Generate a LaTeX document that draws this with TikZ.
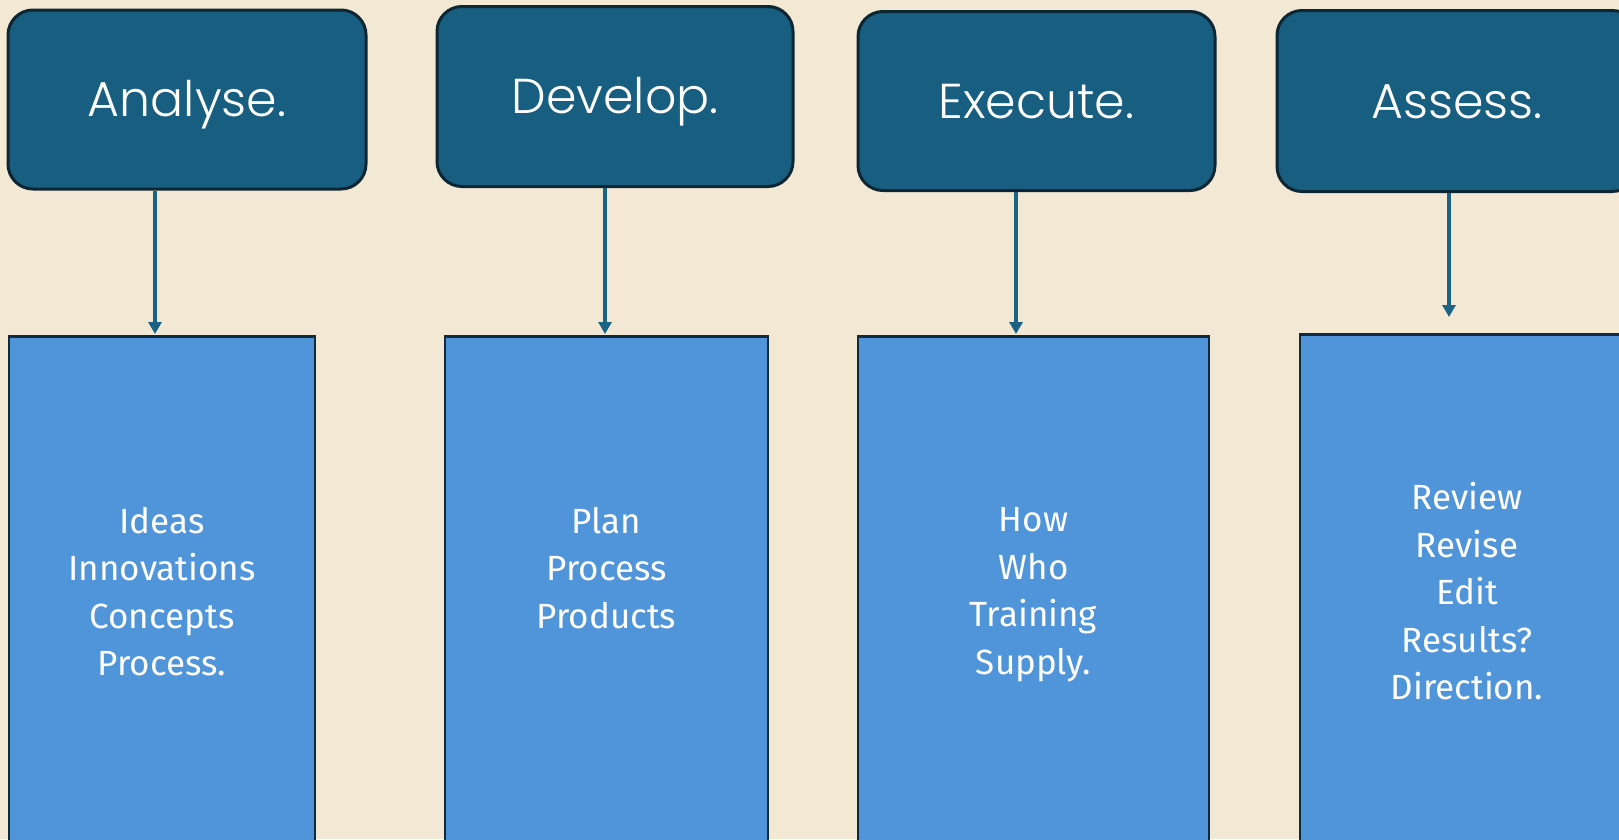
\documentclass[tikz,border=0pt]{standalone}
\usepackage{fontspec}
\setmainfont{Fira Sans}
\newfontfamily\headfont{Poppins Light}
\usetikzlibrary{arrows.meta}
\definecolor{bgc}{HTML}{F3E8D3}
\definecolor{headfill}{HTML}{175E80}
\definecolor{headline}{HTML}{0C2634}
\definecolor{bodyfill}{HTML}{5095D9}
\definecolor{bodyline}{HTML}{0F2A3C}
\definecolor{arrc}{HTML}{1A6286}
\tikzset{
  headbox/.style={draw=headline, line width=3pt, fill=headfill, rounded corners=25pt,
    text=white, font=\headfont\fontsize{49}{55}\selectfont, inner sep=0pt,
    text height=34pt, text depth=0pt},
  bodybox/.style={draw=bodyline, line width=2.5pt, fill=bodyfill, text=white,
    align=center, font=\fontsize{35}{47.5}\selectfont, inner sep=0pt},
  arr/.style={draw=arrc, line width=3.3pt, -{Triangle[length=12pt,width=13pt]}}
}
\begin{document}
\begin{tikzpicture}[x=1pt,y=-1pt]
\useasboundingbox (0,0) rectangle (1619,839);
\fill[bgc] (0,0) rectangle (1619,839);
\clip (0,0) rectangle (1619,839);
% head boxes
\node[headbox, minimum width=358pt, minimum height=179pt] (an) at (187,99.5) {Analyse.};
\node[headbox, minimum width=356pt, minimum height=180pt] (dv) at (615,96.5) {Develop.};
\node[headbox, minimum width=357pt, minimum height=179pt] (ex) at (1036.5,101) {Execute.};
\node[headbox, minimum width=360pt, minimum height=181pt] (as) at (1457,101) {Assess.};
% body boxes
\node[bodybox, minimum width=306pt, minimum height=524pt, anchor=north] (b1) at (162,335) {Ideas\\Innovations\\Concepts\\Process.\strut};
\node[bodybox, minimum width=323pt, minimum height=524pt, anchor=north] (b2) at (606.5,335) {Plan\\Process\\Products\\\strut};
\node[bodybox, minimum width=351pt, minimum height=524pt, anchor=north] (b3) at (1033.5,335) {How\\Who\\Training\\Supply.\strut};
\node[bodybox, minimum width=334pt, minimum height=528pt, anchor=north] (b4) at (1467,333) {Review\\Revise\\Edit\\Results?\\Direction.\strut};
% arrows
\coordinate (t1) at (155,334);
\coordinate (t2) at (605,334);
\coordinate (t3) at (1016,334);
\coordinate (t4) at (1449,317);
\draw[arr] (t1 |- an.south) -- (t1);
\draw[arr] (t2 |- dv.south) -- (t2);
\draw[arr] (t3 |- ex.south) -- (t3);
\draw[arr] (t4 |- as.south) -- (t4);
\end{tikzpicture}
\end{document}
